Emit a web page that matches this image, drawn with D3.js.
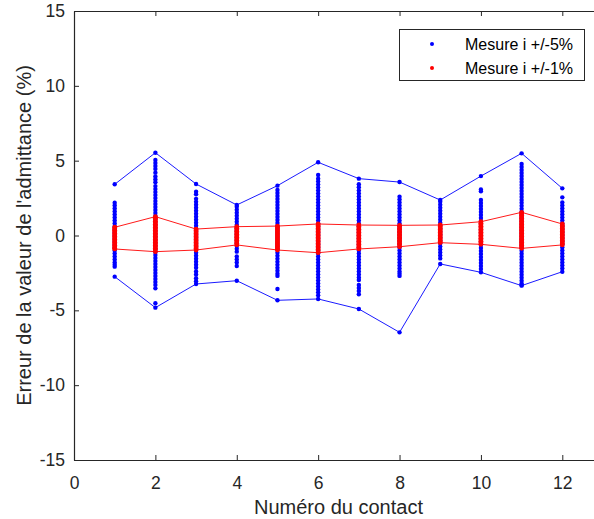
<!DOCTYPE html>
<html><head><meta charset="utf-8">
<script src="https://cdn.jsdelivr.net/npm/d3@7"></script>
<style>body{margin:0;background:#fff}svg{display:block}</style>
</head><body>
<script>
const contacts = [1,2,3,4,5,6,7,8,9,10,11,12];
const xTicks = [0,2,4,6,8,10,12];
const yTicks = [-15,-10,-5,0,5,10,15];
const legendLabels = ["Mesure i +/-5%", "Mesure i +/-1%"];
// Measurements, class +/-5% (blue), one list per contact
const blue5 = [
 [3.42,2.19,2.0,1.8,1.6,1.4,1.2,1.0,0.8,0.6,0.4,0.2,0.0,-0.2,-0.4,-0.6,-0.8,-1.0,-1.2,-1.4,-1.6,-1.8,-1.95,-2.08,-2.75],
 [5.53,5.04,4.85,4.65,4.45,4.2,3.95,3.75,3.55,3.3,3.1,2.9,2.7,2.5,2.3,2.1,1.9,1.7,1.5,1.3,1.1,0.9,0.7,0.5,0.3,0.1,-0.1,-0.3,-0.5,-0.7,-0.9,-1.1,-1.3,-1.5,-1.7,-1.9,-2.1,-2.3,-2.5,-2.7,-2.9,-3.1,-3.3,-3.53,-4.53,-4.82],
 [3.44,2.93,2.75,2.45,2.25,2.05,1.85,1.65,1.45,1.25,1.05,0.85,0.65,0.45,0.25,0.05,-0.15,-0.35,-0.55,-0.75,-0.95,-1.15,-1.35,-1.55,-1.75,-1.95,-2.15,-2.4,-2.6,-2.85,-3.05,-3.24],
 [2.04,1.92,1.72,1.52,1.32,1.12,0.92,0.72,0.52,0.32,0.12,-0.08,-0.28,-0.48,-0.68,-0.88,-1.08,-1.4,-1.6,-1.8,-2.04,-3.02],
 [3.33,3.04,2.84,2.64,2.44,2.24,2.04,1.84,1.64,1.44,1.24,1.04,0.84,0.64,0.44,0.24,0.04,-0.16,-0.36,-0.56,-0.76,-0.96,-1.16,-1.36,-1.56,-1.76,-1.96,-2.16,-2.36,-2.55,-2.7,-3.57,-4.33],
 [4.89,4.04,3.8,3.6,3.4,3.2,3.0,2.8,2.6,2.4,2.2,2.0,1.8,1.6,1.4,1.2,1.0,0.8,0.6,0.4,0.2,0.0,-0.2,-0.4,-0.6,-0.8,-1.0,-1.2,-1.4,-1.6,-1.8,-2.0,-2.2,-2.4,-2.6,-2.8,-3.0,-3.2,-3.4,-3.6,-3.8,-4.0,-4.24],
 [3.8,3.42,3.22,3.0,2.8,2.6,2.4,2.2,2.0,1.8,1.6,1.4,1.2,1.0,0.8,0.6,0.4,0.2,0.0,-0.2,-0.4,-0.6,-0.8,-1.0,-1.2,-1.4,-1.6,-1.8,-2.0,-2.2,-2.4,-2.6,-2.8,-2.97,-3.3,-3.5,-3.7,-3.93,-4.91],
 [3.57,2.59,2.4,2.2,2.0,1.8,1.6,1.4,1.2,1.0,0.8,0.6,0.4,0.2,0.0,-0.2,-0.4,-0.6,-0.8,-1.0,-1.2,-1.4,-1.6,-1.8,-2.0,-2.2,-2.4,-2.55,-2.7,-6.47],
 [2.37,2.26,2.06,1.86,1.66,1.46,1.26,1.06,0.86,0.66,0.46,0.26,0.06,-0.14,-0.34,-0.54,-0.74,-0.94,-1.14,-1.34,-1.53,-1.9],
 [3.97,3.08,2.95,2.37,2.17,1.97,1.77,1.57,1.37,1.17,0.97,0.77,0.57,0.37,0.17,-0.03,-0.23,-0.43,-0.63,-0.83,-1.03,-1.23,-1.43,-1.63,-1.83,-2.03,-2.23,-2.46],
 [5.49,4.78,4.58,4.38,4.18,3.98,3.78,3.58,3.38,3.18,2.98,2.78,2.58,2.38,2.18,1.98,1.78,1.58,1.38,1.18,0.98,0.78,0.58,0.38,0.18,-0.02,-0.22,-0.42,-0.62,-0.82,-1.02,-1.22,-1.42,-1.62,-1.82,-2.02,-2.22,-2.42,-2.62,-2.82,-3.02,-3.2,-3.31,-3.35],
 [3.15,2.55,2.2,2.0,1.8,1.6,1.4,1.2,1.0,0.8,0.6,0.4,0.2,0.0,-0.2,-0.4,-0.6,-0.8,-1.0,-1.2,-1.4,-1.6,-1.8,-2.0,-2.2,-2.42]
];
// Measurements, class +/-1% (red), one list per contact
const red1 = [
 [0.55,0.45,0.35,0.25,0.15,0.05,-0.05,-0.15,-0.25,-0.35,-0.45,-0.55,-0.65,-0.75,-0.85,-0.9],
 [1.26,1.15,1.05,0.95,0.85,0.75,0.65,0.55,0.45,0.35,0.25,0.15,0.05,-0.05,-0.15,-0.25,-0.35,-0.45,-0.55,-0.65,-0.75,-0.85,-0.95,-1.08],
 [0.43,0.33,0.23,0.13,0.03,-0.07,-0.17,-0.27,-0.37,-0.47,-0.57,-0.67,-0.77,-0.87,-0.97],
 [0.59,0.49,0.39,0.29,0.19,0.09,-0.01,-0.11,-0.21,-0.31,-0.41,-0.51,-0.63],
 [0.63,0.53,0.43,0.33,0.23,0.13,0.03,-0.07,-0.17,-0.27,-0.37,-0.47,-0.57,-0.67,-0.77,-0.87,-0.97],
 [0.77,0.67,0.57,0.47,0.37,0.27,0.17,0.07,-0.03,-0.13,-0.23,-0.33,-0.43,-0.53,-0.63,-0.73,-0.83,-0.93,-1.03,-1.15],
 [0.7,0.6,0.5,0.4,0.3,0.2,0.1,0.0,-0.1,-0.2,-0.3,-0.4,-0.5,-0.6,-0.7,-0.8,-0.9],
 [0.68,0.58,0.48,0.38,0.28,0.18,0.08,-0.02,-0.12,-0.22,-0.32,-0.42,-0.52,-0.62,-0.75],
 [0.7,0.6,0.5,0.4,0.3,0.2,0.1,0.0,-0.1,-0.2,-0.3,-0.4,-0.48],
 [0.92,0.82,0.72,0.62,0.52,0.42,0.32,0.22,0.12,0.02,-0.08,-0.18,-0.28,-0.38,-0.48,-0.59],
 [1.55,1.45,1.35,1.25,1.15,1.05,0.95,0.85,0.75,0.65,0.55,0.45,0.35,0.25,0.15,0.05,-0.05,-0.15,-0.25,-0.35,-0.45,-0.55,-0.65,-0.75,-0.86],
 [0.77,0.67,0.57,0.47,0.37,0.27,0.17,0.07,-0.03,-0.13,-0.23,-0.33,-0.43,-0.53,-0.63]
];

const W = 594, H = 519;
const mLeft = 74, mTop = 11, plotW = 529, plotH = 449;
const font = "'Liberation Sans', Arial, Helvetica, sans-serif";
const axCol = "#262626";

const svg = d3.select("body").append("svg").attr("width", W).attr("height", H)
  .style("font-family", font);

const x = d3.scaleLinear().domain([0, 13]).range([mLeft, mLeft + plotW]);
const y = d3.scaleLinear().domain([-15, 15]).range([mTop + plotH, mTop]);

svg.append("defs").append("clipPath").attr("id", "clip")
  .append("rect").attr("x", mLeft).attr("y", mTop).attr("width", plotW).attr("height", plotH);

const plot = svg.append("g").attr("clip-path", "url(#clip)");

function drawSeries(data, color, r) {
  const pts = [];
  data.forEach((col, i) => col.forEach(v => pts.push([contacts[i], v])));
  plot.append("g").selectAll("circle").data(pts).join("circle")
    .attr("cx", d => x(d[0])).attr("cy", d => y(d[1])).attr("r", r).attr("fill", color);
  const line = d3.line().x(d => x(d[0])).y(d => y(d[1]));
  const maxs = data.map((col, i) => [contacts[i], d3.max(col)]);
  const mins = data.map((col, i) => [contacts[i], d3.min(col)]);
  [maxs, mins].forEach(arr => plot.append("path").attr("d", line(arr))
    .attr("fill", "none").attr("stroke", color).attr("stroke-width", 0.9));
}
drawSeries(blue5, "#0000ff", 2.2);
drawSeries(red1, "#ff0000", 2.4);

// axes with inward ticks
const tl = 5;
const fmt = d => String(d);
const gx = svg.append("g").attr("transform", `translate(0,${mTop + plotH})`)
  .call(d3.axisBottom(x).tickValues(xTicks).tickFormat(fmt).tickSizeInner(-tl).tickSizeOuter(0).tickPadding(17));
const gxt = svg.append("g").attr("transform", `translate(0,${mTop})`)
  .call(d3.axisTop(x).tickValues(xTicks).tickSizeInner(-tl).tickSizeOuter(0).tickFormat(""));
const gy = svg.append("g").attr("transform", `translate(${mLeft},0)`)
  .call(d3.axisLeft(y).tickValues(yTicks).tickFormat(fmt).tickSizeInner(-tl).tickSizeOuter(0).tickPadding(9));
const gyr = svg.append("g").attr("transform", `translate(${mLeft + plotW},0)`)
  .call(d3.axisRight(y).tickValues(yTicks).tickSizeInner(-tl).tickSizeOuter(0).tickFormat(""));
[gx, gxt, gy, gyr].forEach(g => {
  g.selectAll(".domain").attr("stroke", axCol).attr("stroke-width", 1.2);
  g.selectAll(".tick line").attr("stroke", axCol);
  g.selectAll("text").attr("fill", axCol).style("font-size", "17.5px").style("font-family", font);
});

// axis labels
svg.append("text").attr("x", x(6.5)).attr("y", 514).attr("text-anchor", "middle")
  .attr("fill", axCol).style("font-size", "20px").text("Numéro du contact");
svg.append("text").attr("transform", `translate(31,${y(0)}) rotate(-90)`).attr("text-anchor", "middle")
  .attr("fill", axCol).style("font-size", "20px").text("Erreur de la valeur de l'admittance (%)");

// legend
const lg = svg.append("g");
lg.append("rect").attr("x", 399.5).attr("y", 29.5).attr("width", 185).attr("height", 51)
  .attr("fill", "#fff").attr("stroke", axCol).attr("stroke-width", 1);
["#0000ff", "#ff0000"].forEach((c, i) => {
  const cy = 44 + i * 24;
  lg.append("circle").attr("cx", 432).attr("cy", cy).attr("r", 2).attr("fill", c);
  lg.append("text").attr("x", 465).attr("y", cy).attr("dy", "0.35em").attr("fill", "#000")
    .style("font-size", "16px").text(legendLabels[i]);
});
</script>
</body></html>
